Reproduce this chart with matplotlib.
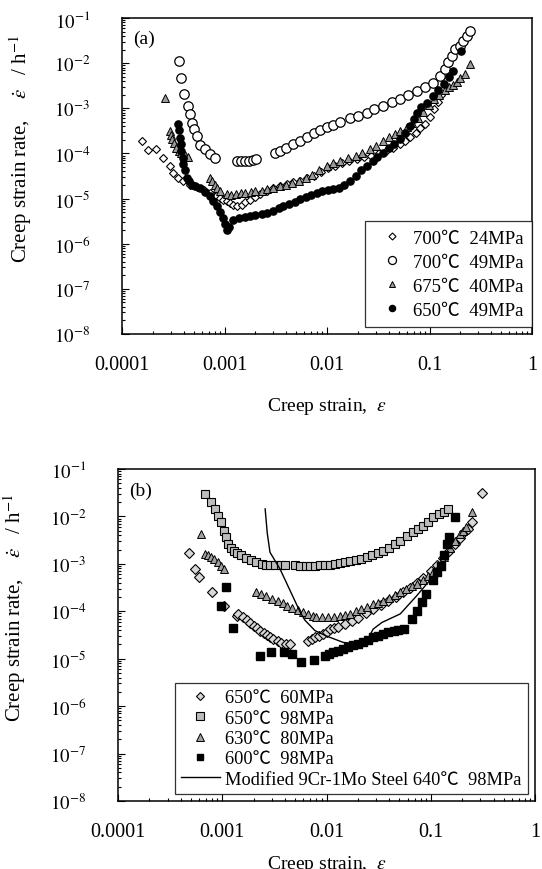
import matplotlib
matplotlib.use("Agg")
import matplotlib.pyplot as plt
from matplotlib.ticker import LogLocator, FixedLocator, FixedFormatter, NullFormatter

plt.rcParams['font.family'] = ['Liberation Serif', 'Noto Sans CJK JP', 'DejaVu Sans']
plt.rcParams['mathtext.fontset'] = 'stix'

# ---------------- panel (a) data ----------------
a700_24_x = [1.56e-4, 1.81e-4, 2.15e-4, 2.53e-4, 2.94e-4, 3.17e-4, 3.54e-4, 3.96e-4, 4.6e-4, 5.4e-4,
             6.3e-4, 7.2e-4, 8.2e-4, 9.0e-4, 9.7e-4, 1.05e-3, 1.13e-3, 1.22e-3, 1.32e-3, 1.47e-3,
             1.6e-3, 1.77e-3, 2.0e-3, 2.2e-3, 2.6e-3, 3.0e-3, 3.5e-3, 4.05e-3, 4.7e-3, 5.5e-3,
             6.4e-3, 7.5e-3, 8.8e-3, 1.03e-2, 1.2e-2, 1.4e-2, 1.65e-2, 1.95e-2, 2.3e-2, 2.7e-2,
             3.2e-2, 3.8e-2, 4.4e-2, 5.1e-2, 5.8e-2, 6.5e-2, 7.3e-2, 8.1e-2, 9.0e-2, 0.1,
             0.11, 0.12, 0.13]
a700_24_y = [1.87e-4, 1.17e-4, 1.23e-4, 8.0e-5, 5.2e-5, 3.7e-5, 2.9e-5, 2.4e-5, 2.05e-5, 1.8e-5,
             1.55e-5, 1.35e-5, 1.15e-5, 1.05e-5, 9.5e-6, 8.8e-6, 8.0e-6, 7.3e-6, 6.7e-6, 7.3e-6,
             8.3e-6, 9.5e-6, 1.1e-5, 1.25e-5, 1.5e-5, 1.7e-5, 1.9e-5, 2.1e-5, 2.3e-5, 2.5e-5,
             2.8e-5, 3.2e-5, 3.8e-5, 4.8e-5, 5.4e-5, 6.0e-5, 6.7e-5, 7.4e-5, 8.2e-5, 9.0e-5,
             1.0e-4, 1.15e-4, 1.35e-4, 1.6e-4, 1.9e-4, 2.3e-4, 2.9e-4, 3.6e-4, 4.6e-4, 6.5e-4,
             9.5e-4, 1.4e-3, 2.0e-3]

a700_49_x = [3.62e-4, 3.77e-4, 4.06e-4, 4.44e-4, 4.6e-4, 4.79e-4, 5.04e-4, 5.36e-4, 5.77e-4, 6.46e-4,
             7.23e-4, 8.08e-4, 1.32e-3, 1.45e-3, 1.6e-3, 1.75e-3, 1.9e-3, 2.05e-3, 3.1e-3, 3.5e-3,
             4.0e-3, 4.7e-3, 5.5e-3, 6.4e-3, 7.5e-3, 8.6e-3, 1.0e-2, 1.15e-2, 1.35e-2, 1.67e-2,
             2.0e-2, 2.44e-2, 2.9e-2, 3.54e-2, 4.3e-2, 5.15e-2, 6.2e-2, 7.5e-2, 9.0e-2, 0.109,
             0.126, 0.142, 0.152, 0.165, 0.177, 0.199, 0.214, 0.231, 0.248]
a700_49_y = [1.12e-2, 4.8e-3, 2.05e-3, 1.12e-3, 7.4e-4, 4.8e-4, 3.4e-4, 2.4e-4, 1.58e-4, 1.23e-4,
             9.5e-5, 8.0e-5, 6.7e-5, 6.7e-5, 6.8e-5, 6.8e-5, 7.0e-5, 7.5e-5, 1.0e-4, 1.15e-4,
             1.3e-4, 1.6e-4, 1.9e-4, 2.3e-4, 2.8e-4, 3.3e-4, 3.8e-4, 4.2e-4, 5.0e-4, 6.0e-4,
             6.8e-4, 8.0e-4, 9.5e-4, 1.15e-3, 1.35e-3, 1.6e-3, 1.95e-3, 2.4e-3, 3.0e-3, 3.7e-3,
             5.2e-3, 7.4e-3, 1.04e-2, 1.45e-2, 2.05e-2, 2.4e-2, 3.1e-2, 4.0e-2, 5.2e-2]

a675_40_x = [2.63e-4, 2.94e-4, 3.0e-4, 3.1e-4, 3.25e-4, 3.4e-4, 3.6e-4, 3.8e-4, 4.1e-4, 4.4e-4,
             7.2e-4, 7.6e-4, 8.0e-4, 8.5e-4, 9.0e-4, 1.05e-3, 1.17e-3, 1.3e-3, 1.45e-3, 1.6e-3,
             1.8e-3, 2.0e-3, 2.3e-3, 2.6e-3, 3.0e-3, 3.5e-3, 4.0e-3, 4.6e-3, 5.3e-3, 6.2e-3,
             7.2e-3, 8.4e-3, 1.0e-2, 1.15e-2, 1.35e-2, 1.6e-2, 1.9e-2, 2.2e-2, 2.6e-2, 3.0e-2,
             3.5e-2, 4.0e-2, 4.6e-2, 5.2e-2, 6.0e-2, 6.8e-2, 7.7e-2, 8.7e-2, 0.098, 0.11,
             0.125, 0.14, 0.155, 0.17, 0.185, 0.2, 0.222, 0.248]
a675_40_y = [1.73e-3, 3.1e-4, 2.6e-4, 2.1e-4, 1.7e-4, 1.35e-4, 1.12e-4, 1.0e-4, 9.2e-5, 8.5e-5,
             2.9e-5, 2.4e-5, 2.0e-5, 1.7e-5, 1.45e-5, 1.25e-5, 1.2e-5, 1.25e-5, 1.3e-5, 1.35e-5,
             1.4e-5, 1.45e-5, 1.5e-5, 1.6e-5, 1.75e-5, 1.9e-5, 2.05e-5, 2.25e-5, 2.5e-5, 2.9e-5,
             3.4e-5, 4.2e-5, 5.2e-5, 6.0e-5, 6.8e-5, 7.8e-5, 9.0e-5, 1.05e-4, 1.25e-4, 1.5e-4,
             1.9e-4, 2.3e-4, 2.7e-4, 3.2e-4, 3.9e-4, 4.8e-4, 6.2e-4, 8.5e-4, 1.2e-3, 1.6e-3,
             2.0e-3, 2.5e-3, 2.9e-3, 3.3e-3, 3.8e-3, 4.6e-3, 5.8e-3, 9.5e-3]

a650_49_x = [3.54e-4, 3.6e-4, 3.67e-4, 3.75e-4, 3.8e-4, 3.9e-4, 3.96e-4, 4.1e-4, 4.28e-4, 4.5e-4,
             4.79e-4, 5.2e-4, 5.77e-4, 6.4e-4, 7.2e-4, 7.8e-4, 8.4e-4, 9.0e-4, 9.6e-4, 1.0e-3,
             1.05e-3, 1.1e-3, 1.22e-3, 1.4e-3, 1.6e-3, 1.77e-3, 2.0e-3, 2.3e-3, 2.57e-3, 3.0e-3,
             3.4e-3, 3.73e-3, 4.3e-3, 4.9e-3, 5.46e-3, 6.2e-3, 7.0e-3, 7.93e-3, 9.0e-3, 1.02e-2,
             1.15e-2, 1.3e-2, 1.48e-2, 1.67e-2, 1.9e-2, 2.15e-2, 2.44e-2, 2.8e-2, 3.1e-2, 3.54e-2,
             4.0e-2, 4.5e-2, 5.15e-2, 5.8e-2, 6.4e-2, 7.0e-2, 7.5e-2, 8.3e-2, 9.4e-2, 0.107,
             0.12, 0.137, 0.155, 0.17, 0.204]
a650_49_y = [4.4e-4, 3.3e-4, 2.2e-4, 1.6e-4, 1.12e-4, 8.0e-5, 5.7e-5, 4.2e-5, 2.9e-5, 2.4e-5,
             2.05e-5, 1.9e-5, 1.73e-5, 1.4e-5, 1.13e-5, 9.0e-6, 6.7e-6, 5.0e-6, 3.8e-6, 2.8e-6,
             2.05e-6, 2.4e-6, 3.4e-6, 3.7e-6, 3.9e-6, 4.1e-6, 4.3e-6, 4.6e-6, 4.8e-6, 5.4e-6,
             6.1e-6, 6.8e-6, 7.6e-6, 8.6e-6, 9.6e-6, 1.08e-5, 1.2e-5, 1.33e-5, 1.45e-5, 1.55e-5,
             1.6e-5, 1.75e-5, 2.0e-5, 2.4e-5, 3.2e-5, 4.2e-5, 5.2e-5, 6.8e-5, 8.3e-5, 1.05e-4,
             1.3e-4, 1.6e-4, 2.05e-4, 2.9e-4, 4.0e-4, 5.7e-4, 8.0e-4, 1.05e-3, 1.34e-3, 1.9e-3,
             2.5e-3, 3.4e-3, 5.0e-3, 6.8e-3, 1.88e-2]

# ---------------- panel (b) data ----------------
b650_60_x = [4.8e-4, 5.44e-4, 6.0e-4, 8.0e-4, 1.05e-3, 1.39e-3, 1.43e-3, 1.58e-3, 1.71e-3, 1.85e-3,
             2.0e-3, 2.15e-3, 2.3e-3, 2.5e-3, 2.67e-3, 2.9e-3, 3.1e-3, 3.4e-3, 3.7e-3, 4.1e-3,
             4.5e-3, 6.7e-3, 7.2e-3, 7.8e-3, 8.5e-3, 9.3e-3, 1.0e-2, 1.08e-2, 1.18e-2, 1.29e-2,
             1.5e-2, 1.75e-2, 2.0e-2, 2.4e-2, 2.8e-2, 3.3e-2, 3.9e-2, 4.6e-2, 5.4e-2, 6.3e-2,
             7.3e-2, 8.5e-2, 0.1, 0.115, 0.13, 0.15, 0.17, 0.19, 0.21, 0.23, 0.247, 0.308]
b650_60_y = [1.69e-3, 7.8e-4, 5.2e-4, 2.5e-4, 1.27e-4, 8.1e-5, 8.8e-5, 7.4e-5, 6.4e-5, 5.6e-5,
             5.0e-5, 4.4e-5, 3.9e-5, 3.5e-5, 3.1e-5, 2.8e-5, 2.6e-5, 2.4e-5, 2.1e-5, 2.05e-5,
             2.0e-5, 2.4e-5, 2.6e-5, 2.8e-5, 3.0e-5, 3.3e-5, 3.7e-5, 4.2e-5, 4.4e-5, 4.6e-5,
             5.4e-5, 6.3e-5, 7.3e-5, 9.0e-5, 1.1e-4, 1.35e-4, 1.65e-4, 2.0e-4, 2.5e-4, 3.1e-4,
             3.9e-4, 5.0e-4, 7.0e-4, 9.5e-4, 1.3e-3, 1.9e-3, 2.6e-3, 3.5e-3, 4.6e-3, 5.5e-3,
             7.8e-3, 3.1e-2]

b650_98_x = [6.87e-4, 7.85e-4, 8.5e-4, 9.1e-4, 9.8e-4, 1.05e-3, 1.09e-3, 1.13e-3, 1.2e-3, 1.31e-3,
             1.4e-3, 1.52e-3, 1.7e-3, 1.9e-3, 2.1e-3, 2.38e-3, 2.6e-3, 2.86e-3, 3.2e-3, 3.68e-3,
             4.0e-3, 5.0e-3, 5.6e-3, 6.3e-3, 7.0e-3, 7.8e-3, 8.7e-3, 9.7e-3, 1.08e-2, 1.2e-2,
             1.35e-2, 1.5e-2, 1.68e-2, 1.9e-2, 2.15e-2, 2.42e-2, 2.75e-2, 3.1e-2, 3.5e-2, 4.0e-2,
             4.5e-2, 5.1e-2, 5.9e-2, 6.8e-2, 7.6e-2, 8.5e-2, 9.5e-2, 0.106, 0.12, 0.133, 0.147]
b650_98_y = [2.97e-2, 1.99e-2, 1.44e-2, 1.04e-2, 7.5e-3, 5.0e-3, 3.6e-3, 2.6e-3, 2.2e-3, 1.9e-3,
             1.7e-3, 1.5e-3, 1.35e-3, 1.23e-3, 1.1e-3, 1.0e-3, 9.6e-4, 9.4e-4, 9.6e-4, 9.6e-4,
             9.6e-4, 9.4e-4, 9.2e-4, 9.2e-4, 9.2e-4, 9.2e-4, 9.3e-4, 9.4e-4, 9.6e-4, 1.0e-3,
             1.04e-3, 1.08e-3, 1.12e-3, 1.2e-3, 1.28e-3, 1.37e-3, 1.5e-3, 1.7e-3, 1.9e-3, 2.2e-3,
             2.6e-3, 3.1e-3, 3.8e-3, 4.6e-3, 5.4e-3, 6.4e-3, 7.8e-3, 9.6e-3, 1.1e-2, 1.22e-2,
             1.43e-2]

b630_80_x = [6.3e-4, 6.87e-4, 7.3e-4, 7.85e-4, 8.4e-4, 9.1e-4, 9.7e-4, 1.05e-3, 2.12e-3, 2.35e-3,
             2.65e-3, 3.0e-3, 3.4e-3, 3.8e-3, 4.2e-3, 4.7e-3, 5.3e-3, 6.0e-3, 6.7e-3, 7.4e-3,
             8.0e-3, 9.0e-3, 1.03e-2, 1.17e-2, 1.35e-2, 1.5e-2, 1.68e-2, 1.9e-2, 2.15e-2, 2.43e-2,
             2.8e-2, 3.1e-2, 3.5e-2, 4.0e-2, 4.5e-2, 5.1e-2, 5.8e-2, 6.6e-2, 7.4e-2, 8.4e-2,
             9.5e-2, 0.106, 0.12, 0.135, 0.152, 0.17, 0.19, 0.205, 0.22, 0.247]
b630_80_y = [4.3e-3, 1.62e-3, 1.5e-3, 1.37e-3, 1.25e-3, 1.08e-3, 9.2e-4, 7.8e-4, 2.5e-4, 2.3e-4,
             2.1e-4, 1.85e-4, 1.66e-4, 1.48e-4, 1.3e-4, 1.17e-4, 1.04e-4, 9.6e-5, 8.8e-5, 8.1e-5,
             7.4e-5, 7.4e-5, 7.4e-5, 7.4e-5, 8.0e-5, 8.5e-5, 8.8e-5, 1.0e-4, 1.1e-4, 1.22e-4,
             1.4e-4, 1.5e-4, 1.66e-4, 1.9e-4, 2.2e-4, 2.5e-4, 3.0e-4, 3.4e-4, 3.7e-4, 4.6e-4,
             5.6e-4, 6.6e-4, 9.0e-4, 1.4e-3, 2.2e-3, 3.0e-3, 4.3e-3, 5.0e-3, 5.9e-3, 1.22e-2]

b600_98_x = [9.7e-4, 1.09e-3, 1.27e-3, 2.3e-3, 2.92e-3, 3.9e-3, 4.7e-3, 5.7e-3, 7.6e-3, 9.6e-3,
             1.05e-2, 1.16e-2, 1.3e-2, 1.45e-2, 1.6e-2, 1.8e-2, 2.0e-2, 2.25e-2, 2.5e-2, 2.8e-2,
             3.1e-2, 3.5e-2, 3.9e-2, 4.4e-2, 4.9e-2, 5.5e-2, 6.6e-2, 7.4e-2, 8.3e-2, 9.1e-2,
             0.105, 0.115, 0.125, 0.135, 0.143, 0.148, 0.17]
b600_98_y = [1.31e-4, 3.2e-4, 4.4e-5, 1.16e-5, 1.4e-5, 1.37e-5, 1.27e-5, 8.5e-6, 9.4e-6, 1.16e-5,
             1.25e-5, 1.37e-5, 1.45e-5, 1.6e-5, 1.75e-5, 1.9e-5, 2.05e-5, 2.2e-5, 2.5e-5, 2.8e-5,
             3.0e-5, 3.3e-5, 3.6e-5, 3.9e-5, 4.1e-5, 4.2e-5, 6.9e-5, 1.03e-4, 1.56e-4, 2.3e-4,
             4.5e-4, 6.6e-4, 9.0e-4, 1.5e-3, 2.6e-3, 3.6e-3, 9.6e-3]

steel_x = [2.58e-3, 2.7e-3, 2.87e-3, 3.58e-3, 5.6e-3, 6.2e-3, 7.76e-3, 1.0e-2, 1.45e-2, 2.1e-2,
           2.5e-2, 2.8e-2, 3.4e-2, 5.1e-2, 7.3e-2, 0.106, 0.131, 0.148]
steel_y = [1.44e-2, 4.5e-3, 1.75e-3, 7.8e-4, 9.5e-5, 6.5e-5, 3.9e-5, 3.0e-5, 2.2e-5, 2.05e-5,
           2.6e-5, 4.2e-5, 5.8e-5, 8.8e-5, 2.1e-4, 5.5e-4, 9.2e-4, 1.6e-3]

x_ticks = [1e-4, 1e-3, 1e-2, 1e-1, 1]
x_ticklabels = ["0.0001", "0.001", "0.01", "0.1", "1"]
y_ticks = [1e-8, 1e-7, 1e-6, 1e-5, 1e-4, 1e-3, 1e-2, 1e-1]
y_ticklabels = [r"$10^{-8}$", r"$10^{-7}$", r"$10^{-6}$", r"$10^{-5}$",
                r"$10^{-4}$", r"$10^{-3}$", r"$10^{-2}$", r"$10^{-1}$"]

fig = plt.figure(figsize=(5.42, 8.7), dpi=100)
axa = fig.add_axes([0.2251, 0.6149, 0.7565, 0.3632])
axb = fig.add_axes([0.2177, 0.0782, 0.7694, 0.3816])


def style(ax, tag, ylab_y, xpad):
    ax.set_xscale("log"); ax.set_yscale("log")
    ax.set_xlim(1e-4, 1); ax.set_ylim(1e-8, 1e-1)
    ax.xaxis.set_major_locator(FixedLocator(x_ticks))
    ax.xaxis.set_major_formatter(FixedFormatter(x_ticklabels))
    ax.yaxis.set_major_locator(FixedLocator(y_ticks))
    ax.yaxis.set_major_formatter(FixedFormatter(y_ticklabels))
    ax.xaxis.set_minor_locator(LogLocator(base=10, subs=range(2, 10), numticks=20))
    ax.yaxis.set_minor_locator(LogLocator(base=10, subs=range(2, 10), numticks=20))
    ax.xaxis.set_minor_formatter(NullFormatter()); ax.yaxis.set_minor_formatter(NullFormatter())
    ax.tick_params(which="both", direction="in", top=False, right=False, width=0.8)
    ax.tick_params(which="major", length=5)
    ax.tick_params(which="minor", length=2.5)
    ax.tick_params(axis="x", which="major", pad=15, labelsize=14.5)
    ax.tick_params(axis="y", which="major", pad=23, labelsize=13.5)
    for s in ax.spines.values():
        s.set_linewidth(1.1)
    ax.set_xlabel(r"Creep strain,  $\varepsilon$", fontsize=14, labelpad=xpad)
    ax.set_ylabel(r"Creep strain rate,    $\dot{\varepsilon}$   / h$^{-1}$", fontsize=15)
    ax.yaxis.set_label_coords(-0.215, ylab_y)
    ax.text(0.027, 0.935, tag, transform=ax.transAxes, fontsize=14, va="center", ha="left")


style(axa, "(a)", 0.59, 15)
style(axb, "(b)", 0.585, 9)

# panel (a)
axa.plot(a700_24_x, a700_24_y, ls="none", marker="D", ms=4.2, mfc="white", mec="black", mew=0.8,
         label="700\u2103  24MPa")
axa.plot(a700_49_x, a700_49_y, ls="none", marker="o", ms=6.8, mfc="white", mec="black", mew=0.9,
         label="700\u2103  49MPa")
axa.plot(a675_40_x, a675_40_y, ls="none", marker="^", ms=5.2, mfc="#9a9a9a", mec="black", mew=0.7,
         label="675\u2103  40MPa")
axa.plot(a650_49_x, a650_49_y, ls="none", marker="o", ms=5.2, mfc="black", mec="black",
         label="650\u2103  49MPa")
la = axa.legend(loc="lower right", bbox_to_anchor=(1.0, 0.022), borderaxespad=0, fontsize=13.5,
                frameon=True, fancybox=False, edgecolor="black", handlelength=2.0,
                handletextpad=0.1, labelspacing=0.36, borderpad=0.45, markerscale=0.85)
la.get_frame().set_linewidth(0.9)

# panel (b)
axb.plot(b650_60_x, b650_60_y, ls="none", marker="D", ms=4.8, mfc="#d8d8d8", mec="black", mew=0.8,
         label="650\u2103  60MPa")
axb.plot(b650_98_x, b650_98_y, ls="none", marker="s", ms=6, mfc="#bdbdbd", mec="black", mew=0.8,
         label="650\u2103  98MPa")
axb.plot(b630_80_x, b630_80_y, ls="none", marker="^", ms=6, mfc="#a0a0a0", mec="black", mew=0.7,
         label="630\u2103  80MPa")
axb.plot(b600_98_x, b600_98_y, ls="none", marker="s", ms=5.3, mfc="black", mec="black",
         label="600\u2103  98MPa")
axb.plot(steel_x, steel_y, color="black", lw=1.0,
         label="Modified 9Cr-1Mo Steel 640\u2103  98MPa")
lb = axb.legend(loc="lower right", bbox_to_anchor=(0.983, 0.021), borderaxespad=0, fontsize=13.2,
                frameon=True, fancybox=False, edgecolor="black", handlelength=2.1,
                handletextpad=0.3, labelspacing=0.18, borderpad=0.35, markerscale=0.85)
lb.get_frame().set_linewidth(0.9)

fig.savefig("out.png", dpi=100)
